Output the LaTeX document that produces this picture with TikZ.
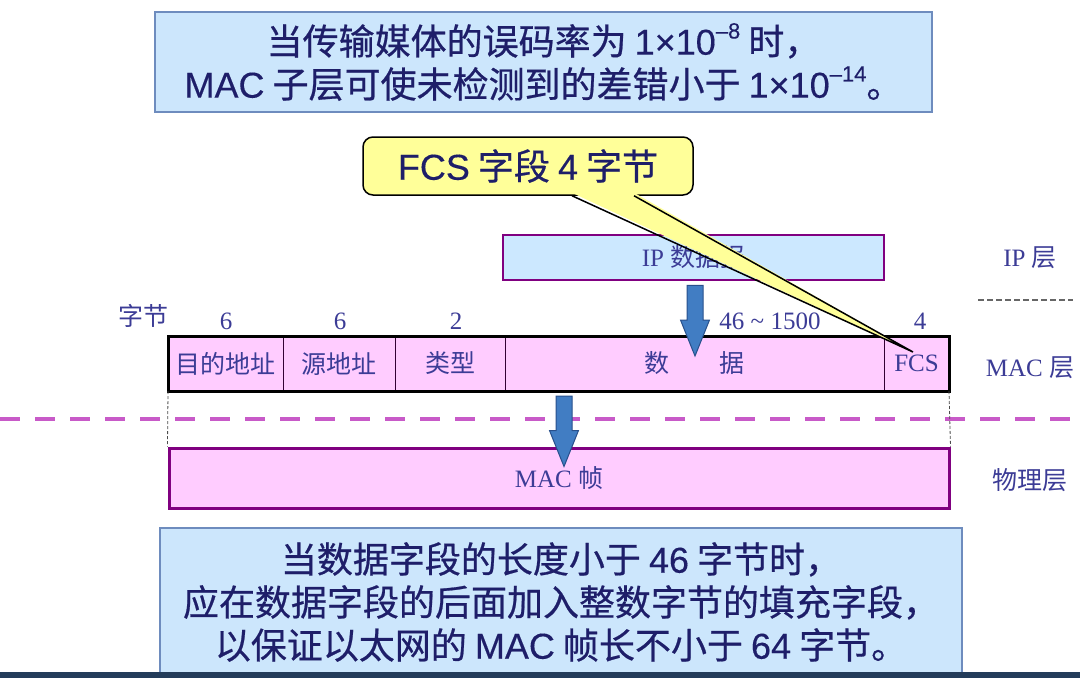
\documentclass[tikz,border=0pt]{standalone}
\usepackage{fontspec}
\setmainfont{Liberation Serif}
\newfontfamily\cjk{Noto Sans CJK SC}
\newfontfamily\cjkbig{Noto Sans CJK SC}[FakeBold=0.6]
\newfontfamily\bigsans{Liberation Sans}[FakeBold=0.3]
\usetikzlibrary{calc}

\definecolor{notefill}{RGB}{204,230,252}
\definecolor{noteline}{RGB}{110,140,190}
\definecolor{notetext}{RGB}{30,30,105}
\definecolor{labeltext}{RGB}{60,60,150}
\definecolor{ipfill}{RGB}{204,232,255}
\definecolor{framefill}{RGB}{255,204,255}
\definecolor{framepurple}{RGB}{128,0,128}
\definecolor{splitpink}{RGB}{200,90,200}
\definecolor{arrowblue}{RGB}{65,125,195}
\definecolor{arrowedge}{RGB}{40,80,140}
\definecolor{calloutfill}{RGB}{255,255,153}
\definecolor{stripblue}{RGB}{35,60,90}

\begin{document}
\begin{tikzpicture}[x=1pt, y=-1pt,
	notebox/.style={draw=noteline, line width=1.5pt, fill=notefill, text=notetext, align=center, inner sep=0pt, font=\cjkbig\fontsize{36}{43}\selectfont},
	callout/.style={draw=black, line width=1.5pt, fill=calloutfill, text=notetext, rounded corners=10pt, minimum width=330pt, minimum height=58pt, font=\cjkbig\fontsize{36}{36}\selectfont},
	cell/.style={draw=black!60!framepurple, line width=1pt, fill=framefill, text=labeltext, minimum height=55pt, inner sep=0pt, outer sep=0pt, font=\fontsize{25}{25}\selectfont},
	lbl/.style={text=labeltext, inner sep=0pt, font=\fontsize{25}{25}\selectfont},
	blockarrow/.style={draw=arrowedge, line width=1pt, fill=arrowblue},
	guide/.style={draw=black!70, line width=0.8pt, dash pattern=on 3pt off 2pt}]
	\fill[white] (0,0) rectangle (1080,678);
	\useasboundingbox (0,0) rectangle (1080,678);
	%% notes
	\node[notebox, minimum width=777pt, minimum height=100pt] (errnote) at (543.5,62) {当传输媒体的误码率为 {\bigsans 1×10\raisebox{0.45em}{\fontsize{22}{22}\selectfont –8}} 时，\\{\bigsans MAC} 子层可使未检测到的差错小于 {\bigsans 1×10\raisebox{0.45em}{\fontsize{22}{22}\selectfont –14}}。};
	\node[notebox, minimum width=802pt, minimum height=148pt] (padnote) at (561,602) {当数据字段的长度小于 {\bigsans 46} 字节时，\\应在数据字段的后面加入整数字节的填充字段，\\以保证以太网的 {\bigsans MAC} 帧长不小于 {\bigsans 64} 字节。};
	\fill[stripblue] (0,672) rectangle (1080,678);
	%% IP layer
	\node[draw=framepurple, line width=2.5pt, fill=ipfill, text=labeltext, minimum width=381pt, minimum height=45pt, font=\fontsize{25}{25}\selectfont] (ipdgram) at (693.5,257.5) {IP {\cjk 数据报}};
	\node[lbl] (iplayer) at (1030,258) {IP {\cjk 层}};
	\draw[black!60, line width=1.5pt, dash pattern=on 6pt off 3pt] (978,300) -- (1073,300);
	%% MAC frame
	\node[lbl] (bytes) at (143,316) {\cjk 字节};
	\node[lbl] (bytesdst) at (226,321) {6};
	\node[lbl] (bytessrc) at (340,321) {6};
	\node[lbl] (bytestype) at (456,321) {2};
	\node[lbl] (bytesdata) at (770,321) {46 \textasciitilde\ 1500};
	\node[lbl] (bytesfcs) at (920,321) {4};
	\node[cell, minimum width=115pt] (dstaddr) at (225.5,363.5) {\cjk 目的地址};
	\node[cell, minimum width=112pt] (srcaddr) at (339,363.5) {\cjk 源地址};
	\node[cell, minimum width=110pt] (typefld) at (450,363.5) {\cjk 类型};
	\node[cell, minimum width=379pt] (datafld) at (694.5,363.5) {\cjk 数\hspace{2em}据};
	\node[cell, minimum width=65pt] (fcsfld) at (916.5,363.5) {FCS};
	\draw[line width=3pt] (dstaddr.north west) rectangle (fcsfld.south east);
	\node[lbl] (maclayer) at (1030,368) {MAC {\cjk 层}};
	%% physical layer
	\draw[splitpink, line width=4pt, dash pattern=on 20pt off 15pt] (0,419) -- (1080,419);
	\node[draw=framepurple, line width=3pt, fill=framefill, text=labeltext, minimum width=780pt, minimum height=60pt, font=\fontsize{25}{25}\selectfont] (macframe) at (559,478) {MAC {\cjk 帧}};
	\node[lbl] (phylayer) at (1030,480) {\cjk 物理层};
	\draw[guide] (dstaddr.south west) -- (macframe.north west);
	\draw[guide] (fcsfld.south east) -- (macframe.north east);
	%% arrows
	\coordinate (ipout) at ($(ipdgram.south)+(1.5,4)$);
	\coordinate (datain) at ($(datafld.north)+(0.5,20)$);
	\draw[blockarrow] ($(ipout)+(-8,0)$) -- ($(datain)+(-8,-36)$) -- ($(datain)+(-14.5,-36)$) -- (datain) -- ($(datain)+(14.5,-36)$) -- ($(datain)+(8,-36)$) -- ($(ipout)+(8,0)$) -- cycle;
	\coordinate (frameout) at ($(dstaddr.south west)!0.5!(fcsfld.south east)+(5.5,5)$);
	\coordinate (phyin) at ($(macframe.north)+(5,20)$);
	\draw[blockarrow] ($(frameout)+(-8,0)$) -- ($(phyin)+(-8,-36)$) -- ($(phyin)+(-14.5,-36)$) -- (phyin) -- ($(phyin)+(14.5,-36)$) -- ($(phyin)+(8,-36)$) -- ($(frameout)+(8,0)$) -- cycle;
	%% callout
	\node[callout] (fcsnote) at (528,166) {{\bigsans FCS} 字段 {\bigsans 4} 字节};
	\coordinate (fcstip) at (913,352);
	\fill[calloutfill] ($(fcsnote.south)+(44,-3)$) -- (fcstip) -- ($(fcsnote.south)+(106,-3)$) -- cycle;
	\draw[line width=1.5pt] ($(fcsnote.south)+(44,0)$) -- (fcstip) -- ($(fcsnote.south)+(106,0)$);
\end{tikzpicture}
\end{document}
